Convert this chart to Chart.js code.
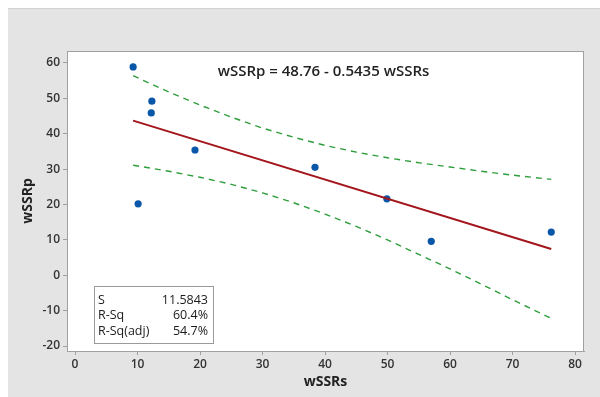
<!DOCTYPE html>
<html>
<head>
<meta charset="utf-8">
<script src="https://cdn.jsdelivr.net/npm/chart.js@4.4.0/dist/chart.umd.min.js"></script>
<style>
	html, body { margin: 0; padding: 0; background: #fff; }
</style>
</head>
<body>
<canvas id="fitPlot" width="600" height="397"></canvas>
<script>
// observed points
var wSSRs = [9.3, 12.3, 12.2, 19.2, 10.1, 38.4, 49.9, 57.0, 76.2];
var wSSRp = [58.9, 49.2, 45.9, 35.4, 20.2, 30.5, 21.6, 9.6, 12.2];

// fitted line (ends)
var fitX = [9.3, 76.2];
var fitY = [43.7, 7.4];

// 95% confidence band
var bandX = [9.3, 15, 20, 25, 30, 35, 40, 45, 50, 55, 60, 65, 70, 76.2];
var bandUpper = [56.4, 51.8, 48.1, 44.7, 41.6, 39.0, 36.7, 34.8, 33.2, 31.8, 30.6, 29.4, 28.3, 27.1];
var bandLower = [31.1, 29.4, 27.7, 25.7, 23.3, 20.5, 17.3, 13.8, 10.0, 5.9, 1.8, -2.5, -6.9, -12.2];

var equation = "wSSRp = 48.76 - 0.5435 wSSRs";
var statLabels = ["S", "R-Sq", "R-Sq(adj)"];
var statValues = ["11.5843", "60.4%", "54.7%"];

var FONT = "'Open Sans', 'Noto Sans', sans-serif";

function pairs(xs, ys) {
	return xs.map(function(x, i) { return {x: x, y: ys[i]}; });
}

var backdrop = {
	id: 'backdrop',
	beforeDraw: function(chart) {
		var c = chart.ctx, a = chart.chartArea;
		c.save();
		c.fillStyle = '#ffffff';
		c.fillRect(0, 0, chart.width, chart.height);
		c.fillStyle = '#e4e4e4';
		c.fillRect(8, 8, chart.width - 8, chart.height - 8);
		c.fillStyle = '#d2d2d2';
		c.fillRect(8, 8, chart.width - 8, 1);
		c.fillStyle = '#ffffff';
		c.fillRect(a.left, a.top, a.right - a.left, a.bottom - a.top);
		c.restore();
	},
	afterDraw: function(chart) {
		var c = chart.ctx, a = chart.chartArea;
		c.save();
		// frame
		c.strokeStyle = '#a0a0a0';
		c.lineWidth = 1;
		c.strokeRect(a.left + 0.5, a.top + 0.5, a.right - a.left - 1, a.bottom - a.top);

		// regression equation
		c.fillStyle = '#222';
		c.font = '600 15px ' + FONT;
		c.textAlign = 'center';
		c.textBaseline = 'middle';
		c.fillText(equation, (a.left + a.right) / 2 - 2, a.top + 21);

		// summary box
		var bx = a.left + 27, by = a.bottom - 65, bw = 119, bh = 57;
		c.fillStyle = '#fff';
		c.fillRect(bx, by, bw, bh);
		c.strokeStyle = '#9a9a9a';
		c.strokeRect(bx + 0.5, by + 0.5, bw, bh);
		c.fillStyle = '#1a1a1a';
		c.font = '12.5px ' + FONT;
		for (var i = 0; i < statLabels.length; i++) {
			var ty = by + 14 + i * 15.5;
			c.textAlign = 'left';
			c.fillText(statLabels[i], bx + 4, ty);
			c.textAlign = 'right';
			c.fillText(statValues[i], bx + bw - 5, ty);
		}
		c.restore();
	}
};

var axisTicks = {color: '#333', font: {family: FONT, size: 12, weight: '600'}, stepSize: 10, includeBounds: false};
var axisGrid = {drawOnChartArea: false, tickLength: 4, color: '#a0a0a0'};

var ctx = document.getElementById("fitPlot");
var fitPlot = new Chart(ctx, {
	type: 'scatter',
	data: {
		datasets: [{
			label: 'Upper',
			data: pairs(bandX, bandUpper),
			showLine: true,
			borderColor: '#2f9e3c',
			borderWidth: 1.4,
			borderDash: [6, 5],
			pointRadius: 0
		}, {
			label: 'Lower',
			data: pairs(bandX, bandLower),
			showLine: true,
			borderColor: '#2f9e3c',
			borderWidth: 1.4,
			borderDash: [6, 5],
			pointRadius: 0
		}, {
			label: 'Fit',
			data: pairs(fitX, fitY),
			showLine: true,
			borderColor: '#a3161c',
			borderWidth: 2,
			pointRadius: 0
		}, {
			label: 'wSSRp',
			data: pairs(wSSRs, wSSRp),
			pointRadius: 3.6,
			pointBackgroundColor: '#0a56a8',
			pointBorderColor: '#0a56a8',
			pointBorderWidth: 0
		}]
	},
	options: {
		responsive: false,
		animation: false,
		layout: {padding: {top: 51, right: 16, bottom: 0, left: 0}},
		plugins: {
			legend: {display: false},
			tooltip: {enabled: false}
		},
		scales: {
			x: {
				type: 'linear',
				min: -1.28,
				max: 81.44,
				ticks: Object.assign({padding: 2}, axisTicks),
				grid: axisGrid,
				border: {color: '#a0a0a0'},
				title: {display: true, text: 'wSSRs', color: '#222', font: {family: FONT, size: 14, weight: 'bold'}, padding: {top: 0, bottom: 7}},
				afterFit: function(s) { s.height = 46; }
			},
			y: {
				type: 'linear',
				min: -21.41,
				max: 63.39,
				ticks: Object.assign({padding: 3}, axisTicks),
				grid: axisGrid,
				border: {color: '#a0a0a0'},
				title: {display: true, text: 'wSSRp', color: '#222', font: {family: FONT, size: 14, weight: 'bold'}, padding: {top: 20, bottom: 0}},
				afterFit: function(s) { s.width = 67; }
			}
		}
	},
	plugins: [backdrop]
});
</script>
</body>
</html>
